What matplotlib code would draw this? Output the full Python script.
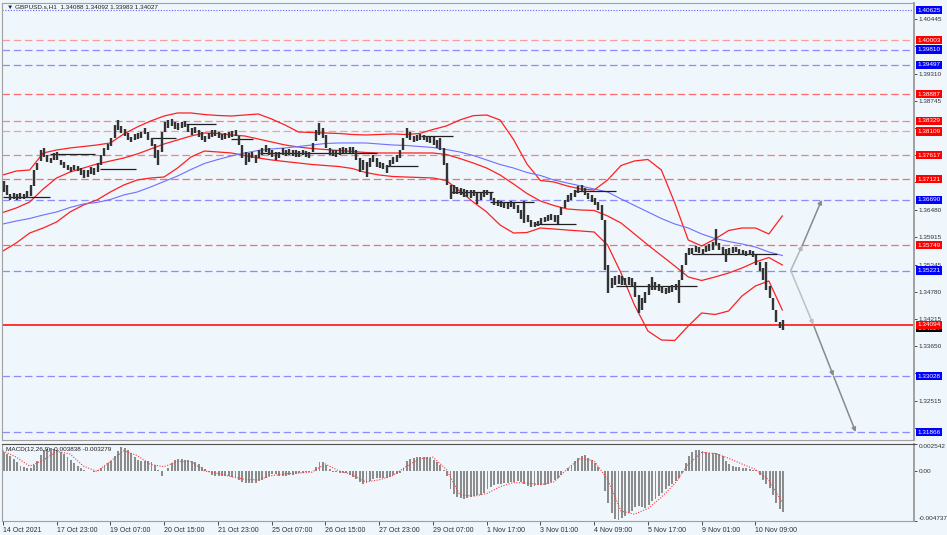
import numpy as np
import matplotlib
matplotlib.use("Agg")
import matplotlib.pyplot as plt
from matplotlib.transforms import blended_transform_factory

plt.rcParams['font.family'] = ['Liberation Sans', 'DejaVu Sans']

# ---------------- data ----------------
symbol_title = "\u25BC GBPUSD.s,H1  1.34088 1.34092 1.33983 1.34027"
macd_title = "MACD(12,26,9) -0.003838 -0.003279"

time_labels = ["14 Oct 2021", "17 Oct 23:00", "19 Oct 07:00", "20 Oct 15:00",
               "21 Oct 23:00", "25 Oct 07:00", "26 Oct 15:00", "27 Oct 23:00",
               "29 Oct 07:00", "1 Nov 17:00", "3 Nov 01:00", "4 Nov 09:00",
               "5 Nov 17:00", "9 Nov 01:00", "10 Nov 09:00"]
label_step = 32      # H1 bars between time labels
group_bars = 2       # each drawn price bar covers 2 hourly bars
band_step = 8        # indicator samples every 8 bars

lows = [
    1.3685, 1.3679, 1.3669, 1.3671, 1.3669, 1.3671, 1.3671, 1.3673, 1.3677, 1.3698,
    1.3731, 1.3750, 1.3758, 1.3747, 1.3745, 1.3752, 1.3752, 1.3741, 1.3735, 1.3731,
    1.3727, 1.3731, 1.3729, 1.3721, 1.3714, 1.3716, 1.3723, 1.3721, 1.3727, 1.3741,
    1.3760, 1.3772, 1.3781, 1.3797, 1.3814, 1.3808, 1.3801, 1.3793, 1.3789, 1.3793,
    1.3795, 1.3797, 1.3806, 1.3793, 1.3781, 1.3756, 1.3741, 1.3768, 1.3810, 1.3818,
    1.3822, 1.3816, 1.3814, 1.3818, 1.3820, 1.3810, 1.3804, 1.3808, 1.3799, 1.3793,
    1.3789, 1.3795, 1.3799, 1.3801, 1.3797, 1.3793, 1.3795, 1.3797, 1.3799, 1.3801,
    1.3783, 1.3756, 1.3741, 1.3747, 1.3756, 1.3745, 1.3756, 1.3762, 1.3768, 1.3762,
    1.3758, 1.3752, 1.3756, 1.3762, 1.3760, 1.3762, 1.3760, 1.3758, 1.3758, 1.3762,
    1.3758, 1.3756, 1.3768, 1.3791, 1.3804, 1.3797, 1.3776, 1.3762, 1.3760, 1.3758,
    1.3762, 1.3766, 1.3764, 1.3766, 1.3766, 1.3752, 1.3727, 1.3731, 1.3716, 1.3737,
    1.3747, 1.3737, 1.3735, 1.3733, 1.3725, 1.3737, 1.3743, 1.3747, 1.3756, 1.3772,
    1.3797, 1.3793, 1.3789, 1.3791, 1.3793, 1.3793, 1.3789, 1.3787, 1.3783, 1.3776,
    1.3772, 1.3741, 1.3700, 1.3671, 1.3681, 1.3681, 1.3679, 1.3675, 1.3675, 1.3673,
    1.3677, 1.3660, 1.3669, 1.3675, 1.3679, 1.3669, 1.3658, 1.3656, 1.3654, 1.3652,
    1.3650, 1.3654, 1.3650, 1.3641, 1.3629, 1.3621, 1.3623, 1.3612, 1.3612, 1.3614,
    1.3619, 1.3623, 1.3625, 1.3627, 1.3623, 1.3619, 1.3637, 1.3652, 1.3665, 1.3669,
    1.3675, 1.3683, 1.3685, 1.3679, 1.3671, 1.3665, 1.3658, 1.3648, 1.3627, 1.3523,
    1.3475, 1.3486, 1.3491, 1.3494, 1.3492, 1.3491, 1.3491, 1.3488, 1.3467, 1.3434,
    1.3440, 1.3455, 1.3471, 1.3482, 1.3482, 1.3479, 1.3475, 1.3473, 1.3475, 1.3477,
    1.3482, 1.3455, 1.3502, 1.3533, 1.3554, 1.3556, 1.3560, 1.3558, 1.3554, 1.3560,
    1.3562, 1.3565, 1.3575, 1.3565, 1.3556, 1.3540, 1.3554, 1.3558, 1.3560, 1.3554,
    1.3554, 1.3552, 1.3554, 1.3550, 1.3533, 1.3521, 1.3502, 1.3482, 1.3465, 1.3440,
    1.3415, 1.3403, 1.3398]

highs = [
    1.3708, 1.3700, 1.3681, 1.3683, 1.3681, 1.3683, 1.3681, 1.3687, 1.3700, 1.3731,
    1.3745, 1.3772, 1.3776, 1.3762, 1.3756, 1.3766, 1.3768, 1.3752, 1.3747, 1.3741,
    1.3737, 1.3741, 1.3739, 1.3735, 1.3731, 1.3731, 1.3737, 1.3735, 1.3745, 1.3762,
    1.3776, 1.3785, 1.3797, 1.3824, 1.3835, 1.3822, 1.3816, 1.3808, 1.3799, 1.3806,
    1.3808, 1.3810, 1.3818, 1.3810, 1.3797, 1.3785, 1.3772, 1.3810, 1.3831, 1.3835,
    1.3837, 1.3831, 1.3829, 1.3831, 1.3833, 1.3824, 1.3818, 1.3820, 1.3814, 1.3810,
    1.3801, 1.3808, 1.3814, 1.3814, 1.3810, 1.3806, 1.3808, 1.3810, 1.3812, 1.3814,
    1.3801, 1.3783, 1.3768, 1.3766, 1.3768, 1.3762, 1.3772, 1.3776, 1.3783, 1.3776,
    1.3772, 1.3768, 1.3768, 1.3776, 1.3772, 1.3774, 1.3772, 1.3772, 1.3770, 1.3772,
    1.3770, 1.3768, 1.3787, 1.3814, 1.3829, 1.3818, 1.3804, 1.3776, 1.3772, 1.3772,
    1.3776, 1.3778, 1.3776, 1.3778, 1.3778, 1.3772, 1.3756, 1.3752, 1.3747, 1.3756,
    1.3762, 1.3756, 1.3747, 1.3745, 1.3741, 1.3752, 1.3758, 1.3762, 1.3772, 1.3797,
    1.3818, 1.3810, 1.3801, 1.3804, 1.3806, 1.3804, 1.3801, 1.3799, 1.3799, 1.3793,
    1.3797, 1.3776, 1.3745, 1.3700, 1.3700, 1.3695, 1.3693, 1.3691, 1.3689, 1.3689,
    1.3689, 1.3683, 1.3683, 1.3689, 1.3689, 1.3683, 1.3673, 1.3669, 1.3667, 1.3664,
    1.3662, 1.3667, 1.3662, 1.3658, 1.3648, 1.3667, 1.3637, 1.3627, 1.3623, 1.3625,
    1.3631, 1.3633, 1.3637, 1.3639, 1.3637, 1.3637, 1.3654, 1.3669, 1.3679, 1.3683,
    1.3689, 1.3698, 1.3700, 1.3693, 1.3683, 1.3679, 1.3673, 1.3664, 1.3658, 1.3627,
    1.3533, 1.3506, 1.3510, 1.3512, 1.3510, 1.3506, 1.3508, 1.3506, 1.3498, 1.3471,
    1.3465, 1.3477, 1.3494, 1.3508, 1.3498, 1.3494, 1.3490, 1.3486, 1.3488, 1.3492,
    1.3494, 1.3502, 1.3533, 1.3558, 1.3569, 1.3569, 1.3573, 1.3571, 1.3567, 1.3573,
    1.3577, 1.3581, 1.3608, 1.3579, 1.3571, 1.3567, 1.3569, 1.3571, 1.3571, 1.3567,
    1.3565, 1.3562, 1.3565, 1.3562, 1.3554, 1.3540, 1.3527, 1.3540, 1.3490, 1.3465,
    1.3440, 1.3415, 1.3419]

bb_upper = [
    1.37205, 1.37288, 1.37309, 1.37662, 1.37724, 1.37766, 1.37797, 1.37828,
    1.37870, 1.38057, 1.38202, 1.38326, 1.38430, 1.38493, 1.38493, 1.38461,
    1.38441, 1.38430, 1.38451, 1.38472, 1.38368, 1.38243, 1.38098, 1.38088,
    1.38077, 1.38067, 1.38046, 1.38036, 1.38046, 1.38057, 1.38046, 1.38067,
    1.38150, 1.38223, 1.38347, 1.38437, 1.38451, 1.38347, 1.37942, 1.37433,
    1.37091, 1.37060, 1.36977, 1.36914, 1.36893, 1.37101, 1.37402, 1.37496,
    1.37527, 1.37309, 1.36624, 1.35855, 1.35730, 1.35876, 1.36052, 1.36104,
    1.36104, 1.35980, 1.36354]

bb_mid = [
    1.36426, 1.36520, 1.36644, 1.36914, 1.37143, 1.37267, 1.37350, 1.37433,
    1.37496, 1.37558, 1.37641, 1.37745, 1.37849, 1.37932, 1.38015, 1.38077,
    1.38067, 1.38036, 1.38015, 1.37953, 1.37891, 1.37828, 1.37786, 1.37755,
    1.37734, 1.37714, 1.37693, 1.37672, 1.37662, 1.37662, 1.37662, 1.37662,
    1.37662, 1.37631, 1.37548, 1.37454, 1.37350, 1.37205, 1.37018, 1.36821,
    1.36665, 1.36571, 1.36499, 1.36478, 1.36468, 1.36354, 1.36208, 1.35980,
    1.35751, 1.35533, 1.35315, 1.35087, 1.35014, 1.35087, 1.35169, 1.35273,
    1.35398, 1.35491, 1.35336]

bb_lower = [
    1.35626, 1.35793, 1.36000, 1.36104, 1.36229, 1.36437, 1.36582, 1.36686,
    1.36852, 1.36997, 1.37101, 1.37143, 1.37163, 1.37350, 1.37579, 1.37703,
    1.37683, 1.37662, 1.37610, 1.37558, 1.37517, 1.37485, 1.37454, 1.37423,
    1.37402, 1.37381, 1.37340, 1.37257, 1.37205, 1.37174, 1.37163, 1.37153,
    1.37143, 1.37091, 1.36873, 1.36644, 1.36437, 1.36166, 1.36000, 1.36010,
    1.36104, 1.36083, 1.36062, 1.36042, 1.36021, 1.35751, 1.35169, 1.34505,
    1.33965, 1.33778, 1.33768, 1.34069, 1.34339, 1.34308, 1.34380, 1.34692,
    1.34900, 1.35004, 1.34401]

ma_blue = [
    1.36187, 1.36249, 1.36302, 1.36374, 1.36437, 1.36530, 1.36603, 1.36634,
    1.36696, 1.36790, 1.36852, 1.36956, 1.37070, 1.37184, 1.37319, 1.37444,
    1.37527, 1.37600, 1.37662, 1.37714, 1.37745, 1.37766, 1.37797, 1.37828,
    1.37859, 1.37870, 1.37870, 1.37870, 1.37849, 1.37828, 1.37818, 1.37797,
    1.37776, 1.37734, 1.37683, 1.37610, 1.37517, 1.37423, 1.37350, 1.37257,
    1.37195, 1.37101, 1.37039, 1.36977, 1.36914, 1.36852, 1.36707, 1.36572,
    1.36437, 1.36302, 1.36187, 1.36104, 1.35980, 1.35886, 1.35824, 1.35772,
    1.35709, 1.35606, 1.35533]

macd_hist = [
    0.00175, 0.00162, 0.00140, 0.00115, 0.00085, 0.00050, 0.00035, 0.00028, 0.00030, 0.00060,
    0.00098, 0.00150, 0.00195, 0.00210, 0.00216, 0.00208, 0.00195, 0.00182, 0.00158, 0.00128,
    0.00104, 0.00075, 0.00048, 0.00026, 0.00012, 0.00002, -0.00005, -0.00007, 0.00005, 0.00028,
    0.00050, 0.00072, 0.00092, 0.00140, 0.00190, 0.00222, 0.00215, 0.00198, 0.00165, 0.00130,
    0.00104, 0.00096, 0.00094, 0.00090, 0.00086, 0.00055, 0.00010, -0.00045, -0.00005, 0.00030,
    0.00075, 0.00104, 0.00110, 0.00108, 0.00104, 0.00100, 0.00092, 0.00085, 0.00062, 0.00038,
    0.00018, -0.00012, -0.00040, -0.00048, -0.00048, -0.00050, -0.00052, -0.00052, -0.00054, -0.00060,
    -0.00085, -0.00108, -0.00116, -0.00118, -0.00116, -0.00112, -0.00100, -0.00088, -0.00070, -0.00045,
    -0.00025, -0.00030, -0.00045, -0.00052, -0.00050, -0.00042, -0.00035, -0.00030, -0.00024, -0.00020,
    -0.00014, -0.00008, 0.00000, 0.00040, 0.00082, 0.00085, 0.00055, 0.00015, -0.00010, -0.00014,
    -0.00016, -0.00018, -0.00022, -0.00035, -0.00060, -0.00080, -0.00105, -0.00122, -0.00115, -0.00092,
    -0.00072, -0.00068, -0.00068, -0.00070, -0.00068, -0.00055, -0.00042, -0.00030, -0.00020, 0.00030,
    0.00095, 0.00115, 0.00125, 0.00132, 0.00136, 0.00134, 0.00128, 0.00120, 0.00105, 0.00082,
    0.00060, 0.00010, -0.00050, -0.00170, -0.00215, -0.00250, -0.00260, -0.00262, -0.00260, -0.00250,
    -0.00240, -0.00232, -0.00226, -0.00205, -0.00175, -0.00150, -0.00135, -0.00128, -0.00120, -0.00115,
    -0.00112, -0.00108, -0.00104, -0.00100, -0.00102, -0.00128, -0.00145, -0.00150, -0.00146, -0.00138,
    -0.00134, -0.00130, -0.00120, -0.00105, -0.00088, -0.00068, -0.00040, -0.00005, 0.00028, 0.00060,
    0.00090, 0.00120, 0.00145, 0.00148, 0.00125, 0.00100, 0.00070, 0.00040, 0.00000, -0.00190,
    -0.00300, -0.00400, -0.00455, -0.00465, -0.00450, -0.00425, -0.00400, -0.00375, -0.00345, -0.00335,
    -0.00345, -0.00350, -0.00320, -0.00285, -0.00262, -0.00235, -0.00205, -0.00175, -0.00145, -0.00125,
    -0.00100, -0.00070, -0.00020, 0.00070, 0.00140, 0.00175, 0.00195, 0.00200, 0.00190, 0.00180,
    0.00172, 0.00168, 0.00165, 0.00155, 0.00140, 0.00095, 0.00065, 0.00050, 0.00040, 0.00036,
    0.00032, 0.00025, 0.00018, 0.00012, 0.00005, -0.00035, -0.00085, -0.00125, -0.00165, -0.00225,
    -0.00300, -0.00360, -0.00384]

macd_signal = [
    0.00190, 0.00130, 0.00045, 0.00100, 0.00185, 0.00160, 0.00045, -0.00005,
    0.00090, 0.00190, 0.00145, 0.00060, 0.00040, 0.00090, 0.00088, 0.00000,
    -0.00025, -0.00055, -0.00080, -0.00085, -0.00045, -0.00028, -0.00020, -0.00012,
    0.00065, 0.00000, -0.00035, -0.00105, -0.00085, -0.00045, 0.00040, 0.00115,
    0.00130, 0.00015, -0.00225, -0.00240, -0.00215, -0.00150, -0.00110, -0.00115,
    -0.00130, -0.00105, 0.00020, 0.00120, 0.00095, -0.00080, -0.00380, -0.00410,
    -0.00355, -0.00250, -0.00120, 0.00060, 0.00175, 0.00165, 0.00120, 0.00065,
    0.00015, -0.00085, -0.00300]

macd_ticks = [0.002542, 0.0, -0.004737]
macd_tick_labels = ["0.002542", "0.00", "-0.004737"]

price_ticks = [1.40445, 1.39880, 1.39310, 1.38745, 1.38180, 1.37615, 1.37050, 1.36480,
               1.35915, 1.35345, 1.34780, 1.34215, 1.33650, 1.33085, 1.32515, 1.31950]

red_levels = [1.40003, 1.38887, 1.38329, 1.38109, 1.37617, 1.37121, 1.35749]
red_level_colors = ['#ff9a9a', '#ff6a6a', '#ff8080', '#ff9a9a', '#ff7a7a', '#ff6a6a', '#ff6a6a']
blue_levels = [1.39810, 1.39497, 1.36690, 1.35221, 1.33028, 1.31866]
top_level = 1.40625
price_line = 1.34094
bid_price = 1.34027

# analyst's horizontal segments (bar index start, end, price)
seg_start = [0, 28, 58, 88, 109, 136, 153, 228, 249, 267, 290, 316, 340, 365, 410]
seg_end = [28, 55, 79, 103, 127, 149, 223, 247, 268, 292, 316, 341, 365, 413, 461]
seg_price = [1.36748, 1.37641, 1.37324, 1.37967, 1.38258, 1.37946, 1.37656, 1.37398,
             1.38015, 1.36846, 1.36651, 1.36181, 1.36879, 1.34899, 1.35564]

# projection arrows (bar index, price)
up_x = [469, 476, 487.5]
up_y = [1.35221, 1.35749, 1.36690]
down_x = [469, 482.5, 494.5, 507.7]
down_y = [1.35221, 1.34094, 1.33028, 1.31866]

# ---------------- drawing ----------------
BG = '#eff6fc'
W_PX, H_PX = 947, 535
fig = plt.figure(figsize=(W_PX / 100, H_PX / 100), dpi=100, facecolor=BG)
left = 2 / W_PX
width = 912 / W_PX
ax = fig.add_axes([left, 1 - 440 / H_PX, width, 437 / H_PX], facecolor=BG)
axm = fig.add_axes([left, 1 - 521 / H_PX, width, 77 / H_PX], facecolor=BG)

x_min, x_max = -0.5, 542.4
ax.set_xlim(x_min, x_max)
axm.set_xlim(x_min, x_max)
ax.set_ylim(1.31701, 1.40777)
axm.set_ylim(-0.004737, 0.002542)

# horizontal levels
dash = (0, (6, 3))
for lv, c in zip(red_levels, red_level_colors):
    ax.axhline(lv, color=c, lw=0.9, ls=dash, zorder=1)
for lv in blue_levels:
    ax.axhline(lv, color='#8c8cff', lw=0.9, ls=dash, zorder=1)
ax.axhline(top_level, color='#6060ff', lw=0.8, ls=(0, (1, 1.5)), zorder=1)
ax.axhline(price_line, color='#ff0000', lw=1.1, zorder=1)

# indicator lines
band_x = np.arange(len(bb_upper)) * band_step
ax.plot(band_x, bb_upper, color='#ff2020', lw=0.9, zorder=2)
ax.plot(band_x, bb_mid, color='#ff2020', lw=0.9, zorder=2)
ax.plot(band_x, bb_lower, color='#ff2020', lw=0.9, zorder=2)
ax.plot(np.arange(len(ma_blue)) * band_step, ma_blue, color='#6f6fff', lw=0.8, zorder=2)

# analyst segments
ax.hlines(seg_price, seg_start, seg_end, color='#202020', lw=0.9, zorder=3)

# price bars
gx = np.arange(len(highs)) * group_bars + 0.5
ax.vlines(gx, lows, highs, color='#333333', lw=1.7, zorder=3)

# projection arrows
def draw_path(px, py, colors):
    for i in range(len(px) - 1):
        ax.annotate('', xy=(px[i + 1], py[i + 1]), xytext=(px[i], py[i]),
                    arrowprops=dict(arrowstyle='-|>', color=colors[i], lw=1.1,
                                    mutation_scale=6, shrinkA=0, shrinkB=0),
                    zorder=4)

draw_path(up_x, up_y, ['#b5b5b5', '#8a8a8a'])
draw_path(down_x, down_y, ['#c0c0c0', '#8a8a8a', '#8a8a8a'])

# right price axis; labels hidden behind a level box are left blank
box_levels = red_levels + blue_levels + [top_level, price_line]
ax.yaxis.set_ticks_position('right')
ax.set_yticks(price_ticks)
ax.set_yticklabels([("" if min(abs(t - b) for b in box_levels) < 0.0009 else f"{t:.5f}")
                    for t in price_ticks])
ax.tick_params(axis='y', labelsize=4.6, length=2, width=0.6, pad=1.5, colors='#303030')
ax.set_xticks([])

trans = blended_transform_factory(ax.transAxes, ax.transData)

def level_label(val, fc, z=6):
    ax.text(1.0035, val, f"{val:.5f}", transform=trans, ha='left', va='center',
            fontsize=4.6, color='white', clip_on=False, zorder=z,
            bbox=dict(boxstyle='square,pad=0.25', fc=fc, ec='none'))

level_label(bid_price, '#000000', z=5)
for lv in red_levels:
    level_label(lv, '#ff0000')
for lv in blue_levels + [top_level]:
    level_label(lv, '#0000ff')
level_label(price_line, '#ff0000', z=7)

ax.text(0.005, 0.997, symbol_title, transform=ax.transAxes, ha='left', va='top',
        fontsize=4.6, color='#202020', zorder=8)

for s in ax.spines.values():
    s.set_color('#a0a0a0')
    s.set_linewidth(0.8)
ax.spines['right'].set_linewidth(1.4)

# MACD panel
axm.bar(gx, macd_hist, width=1.15, color='#8c8c8c', linewidth=0, zorder=2)
axm.plot(np.arange(len(macd_signal)) * band_step, macd_signal, color='#ff3a3a',
         lw=0.8, ls=(0, (1, 1.4)), zorder=3)
axm.yaxis.set_ticks_position('right')
axm.set_yticks(macd_ticks)
axm.set_yticklabels(macd_tick_labels)
axm.tick_params(axis='y', labelsize=4.6, length=2, width=0.6, pad=1.5, colors='#303030')
ylab = axm.get_yticklabels()
ylab[0].set_va('top')
ylab[-1].set_va('bottom')
axm.set_xticks(np.arange(len(time_labels)) * label_step)
axm.set_xticklabels(time_labels)
axm.tick_params(axis='x', labelsize=5, length=3, width=0.6, pad=1.5, colors='#303030')
for lbl in axm.get_xticklabels():
    lbl.set_ha('left')
axm.text(0.004, 0.96, macd_title, transform=axm.transAxes, ha='left', va='top',
         fontsize=4.6, color='#202020')
for s in axm.spines.values():
    s.set_color('#a0a0a0')
    s.set_linewidth(0.8)
axm.spines['top'].set_color('#505050')
axm.spines['right'].set_linewidth(1.4)

fig.savefig('out.png', dpi=100, facecolor=BG)
